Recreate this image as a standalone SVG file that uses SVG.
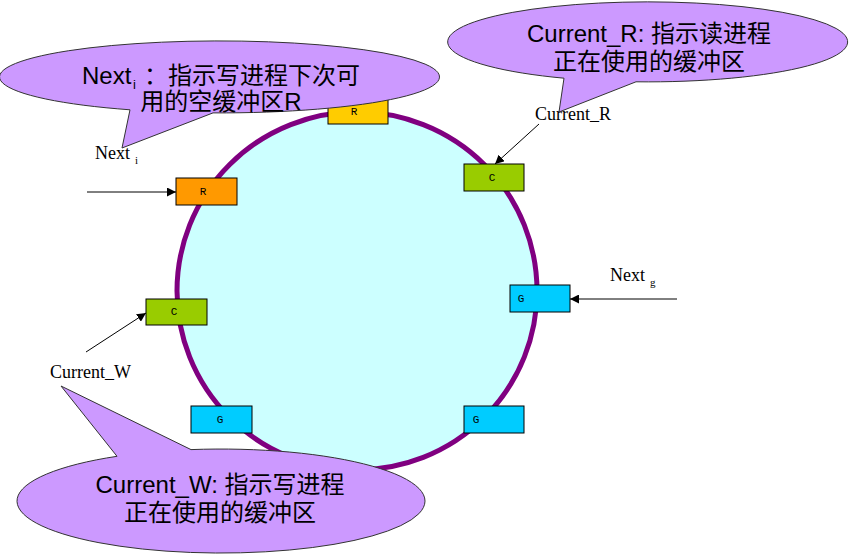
<svg xmlns="http://www.w3.org/2000/svg" width="851" height="555" viewBox="0 0 851 555">
<defs>
<style>
.buf{stroke:#000;stroke-width:1}
.bl{font-family:"Liberation Mono",monospace;font-size:11px;text-anchor:middle}
.lbl{font-family:"Liberation Serif",serif;font-size:18px;fill:#000}
.co{fill:#CC99FF;stroke:#333;stroke-width:1}
.ct{font-family:"Liberation Sans","Noto Sans CJK SC",sans-serif;font-size:24px;fill:#000;text-anchor:middle}
.ln{stroke:#000;stroke-width:1;fill:none;marker-end:url(#ah)}
</style>
<marker id="ah" viewBox="0 0 10 10" refX="10" refY="5" markerWidth="9" markerHeight="9" markerUnits="userSpaceOnUse" orient="auto">
<path d="M0,0 L10,5 L0,10 z" fill="#000"/>
</marker>
</defs>
<rect width="851" height="555" fill="#fff"/>
<g id="ring">
<ellipse cx="357" cy="291" rx="180" ry="179" fill="#CCFFFF" stroke="#800080" stroke-width="5"/>
</g>
<g id="buf-r-top"><rect class="buf" x="328" y="97" width="60" height="27" fill="#FFCC00"/><text class="bl" x="354" y="115">R</text></g>
<g id="buf-r-left"><rect class="buf" x="176" y="178" width="61" height="27" fill="#FF9900"/><text class="bl" x="203" y="195">R</text></g>
<g id="buf-c-right"><rect class="buf" x="464" y="164" width="60" height="27" fill="#99CC00"/><text class="bl" x="492" y="181">C</text></g>
<g id="buf-g-right"><rect class="buf" x="510" y="285" width="60" height="27" fill="#00CCFF"/><text class="bl" x="521" y="302">G</text></g>
<g id="buf-c-left"><rect class="buf" x="146" y="299" width="61" height="26" fill="#99CC00"/><text class="bl" x="174" y="315">C</text></g>
<g id="buf-g-ll"><rect class="buf" x="191" y="406" width="61" height="27" fill="#00CCFF"/><text class="bl" x="220" y="423">G</text></g>
<g id="buf-g-lr"><rect class="buf" x="464" y="406" width="60" height="27" fill="#00CCFF"/><text class="bl" x="476" y="423">G</text></g>
<g id="connectors">
<line class="ln" x1="87" y1="192" x2="176" y2="192"/>
<line class="ln" x1="539" y1="124" x2="495" y2="164"/>
<line class="ln" x1="86" y1="352" x2="146" y2="313"/>
<line class="ln" x1="677" y1="299" x2="570" y2="299"/>
</g>
<g id="label-next-i"><text class="lbl" x="95" y="159">Next<tspan font-size="11" dx="5" dy="5">i</tspan></text></g>
<g id="label-current-r"><text class="lbl" x="535" y="120">Current_R</text></g>
<g id="label-current-w"><text class="lbl" x="50" y="378">Current_W</text></g>
<g id="label-next-g"><text class="lbl" x="610" y="281">Next<tspan font-size="11" dx="5" dy="5">g</tspan></text></g>
<g id="callout-next">
<path class="co" d="M130,109.8 A220,36 0 1 1 213,112.9 L122,148 Z"/>
<text class="ct" style="text-anchor:start"><tspan x="82" y="84">Next</tspan><tspan font-size="13" x="133" y="89">i</tspan><tspan x="144" y="84">：指示写进程下次可</tspan></text>
<text class="ct" x="221" y="110">用的空缓冲区R</text>
</g>
<g id="callout-current-r">
<path class="co" d="M564,78.2 A200,40 0 1 1 636,81.8 L559,112 Z"/>
<text class="ct" x="649" y="42">Current_R: 指示读进程</text>
<text class="ct" x="649" y="70">正在使用的缓冲区</text>
</g>
<g id="callout-current-w">
<path class="co" d="M117,456.3 A204,52 0 1 0 191,449.6 L61,386 Z"/>
<text class="ct" x="220" y="493">Current_W: 指示写进程</text>
<text class="ct" x="220" y="521">正在使用的缓冲区</text>
</g>
</svg>
